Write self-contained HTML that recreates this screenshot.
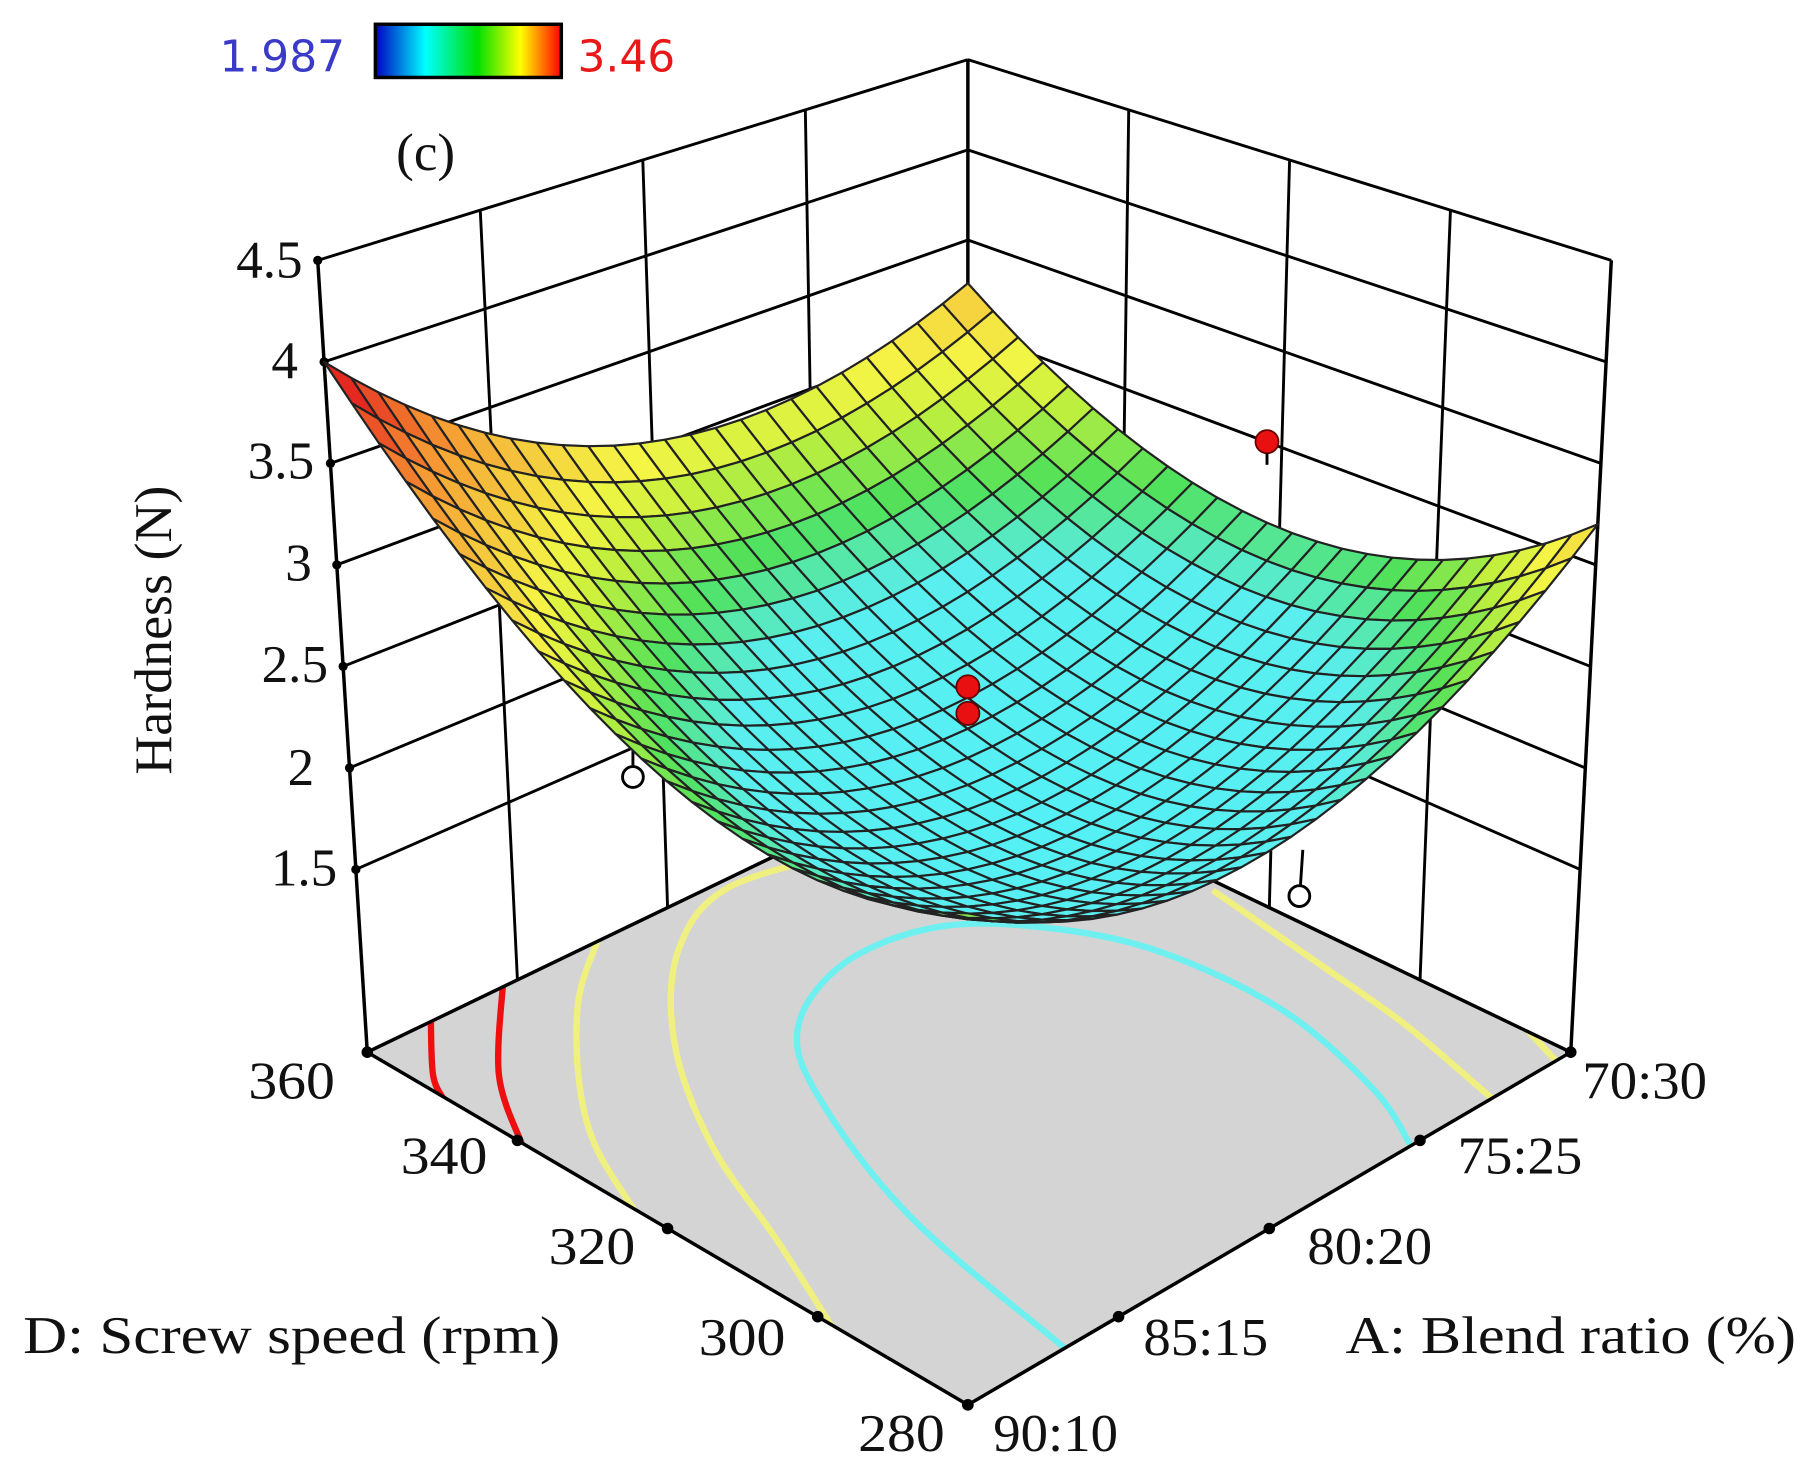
<!DOCTYPE html>
<html><head><meta charset="utf-8"><style>
html,body{margin:0;padding:0;background:#fff;}
svg{display:block;}
.t{font-family:"Liberation Serif",serif;font-size:46px;fill:#111;}
.s{font-family:"DejaVu Sans","Liberation Sans",sans-serif;font-size:38px;}
</style></head><body>
<svg id="g" width="1811" height="1480" viewBox="0 0 1568 1280" preserveAspectRatio="none" xmlns="http://www.w3.org/2000/svg">
<defs><linearGradient id="cb" x1="0" x2="1" y1="0" y2="0">
<stop offset="0" stop-color="#0000c0"/><stop offset="0.27" stop-color="#00ffff"/><stop offset="0.55" stop-color="#00e000"/><stop offset="0.78" stop-color="#ffff00"/><stop offset="1" stop-color="#ff0000"/></linearGradient>
<clipPath id="fc"><polygon points="838,1215 318,910 838,660 1360,910"/></clipPath></defs>
<g id="walls"></g>
<g id="floor"></g>
<g id="stems"></g>
<g id="surf"></g>
<g id="pts"></g>
<rect x="325" y="21" width="161" height="46" fill="url(#cb)" stroke="#000" stroke-width="3"/>
<text class="s" x="190" y="62" fill="#3a3ac8">1.987</text>
<text class="s" x="500" y="62" fill="#e81818">3.46</text>
<text class="t" x="343" y="147">(c)</text>
<text class="t" x="262" y="240" text-anchor="end">4.5</text>
<text class="t" x="258" y="327" text-anchor="end">4</text>
<text class="t" x="272" y="414" text-anchor="end">3.5</text>
<text class="t" x="270" y="502" text-anchor="end">3</text>
<text class="t" x="284" y="590" text-anchor="end">2.5</text>
<text class="t" x="272" y="679" text-anchor="end">2</text>
<text class="t" x="292" y="766" text-anchor="end">1.5</text>
<text class="t" transform="translate(148,545) rotate(-90)" text-anchor="middle" textLength="250" lengthAdjust="spacingAndGlyphs">Hardness (N)</text>
<text class="t" x="215" y="950" textLength="75" lengthAdjust="spacingAndGlyphs">360</text>
<text class="t" x="347" y="1015" textLength="75" lengthAdjust="spacingAndGlyphs">340</text>
<text class="t" x="475" y="1093" textLength="75" lengthAdjust="spacingAndGlyphs">320</text>
<text class="t" x="605" y="1172" textLength="75" lengthAdjust="spacingAndGlyphs">300</text>
<text class="t" x="743" y="1255" textLength="75" lengthAdjust="spacingAndGlyphs">280</text>
<text class="t" x="860" y="1255" textLength="108" lengthAdjust="spacingAndGlyphs">90:10</text>
<text class="t" x="990" y="1172" textLength="108" lengthAdjust="spacingAndGlyphs">85:15</text>
<text class="t" x="1132" y="1093" textLength="108" lengthAdjust="spacingAndGlyphs">80:20</text>
<text class="t" x="1262" y="1015" textLength="108" lengthAdjust="spacingAndGlyphs">75:25</text>
<text class="t" x="1370" y="950" textLength="108" lengthAdjust="spacingAndGlyphs">70:30</text>
<text class="t" x="20" y="1170" textLength="465" lengthAdjust="spacingAndGlyphs">D: Screw speed (rpm)</text>
<text class="t" x="1165" y="1170" textLength="390" lengthAdjust="spacingAndGlyphs">A: Blend ratio (%)</text>
</svg>
<script>
(function(){
var NS="http://www.w3.org/2000/svg";
function bl(c,a,d){return c[0]*(1-a)*(1-d)+c[1]*(1-a)*d+c[2]*a*(1-d)+c[3]*a*d;}
var FX=[838,318,1360,838],FY=[1215,910,910,660],UX=[0,-11,9,0],SC=[195,175.6,175.6,156];
var Z0=0.6;
function P(a,d,z){var h=z-Z0;return [bl(FX,a,d)+bl(UX,a,d)*h, bl(FY,a,d)-bl(SC,a,d)*h];}
function f(a,d){return 2.78-1.98*a-1.38*d-1.16*a*d+2.4*a*a+2.6*d*d;}
function el(gid,tag,at){var e=document.createElementNS(NS,tag);for(var k in at)e.setAttribute(k,at[k]);document.getElementById(gid).appendChild(e);return e;}
function line(gid,p,q,w,c){el(gid,"line",{x1:p[0],y1:p[1],x2:q[0],y2:q[1],stroke:c||"#000","stroke-width":w||2.5});}
var levels=[1.5,2,2.5,3,3.5,4,4.5];
levels.forEach(function(z){line("walls",P(0,1,z),P(1,1,z));line("walls",P(1,1,z),P(1,0,z));
 var p=P(0,1,z);el("walls","circle",{cx:p[0],cy:p[1],r:4,fill:"#000"});});
[0.25,0.5,0.75].forEach(function(s){line("walls",P(s,1,Z0),P(s,1,4.5));line("walls",P(1,s,Z0),P(1,s,4.5));});
line("walls",P(0,1,Z0),P(0,1,4.5),3);line("walls",P(1,1,Z0),P(1,1,4.5),3);line("walls",P(1,0,Z0),P(1,0,4.5),3);
el("floor","polygon",{points:"838,1215 318,910 838,660 1360,910",fill:"#d4d4d4"});
var cg=el("floor","g",{"clip-path":"url(#fc)"});
function cr(pts){var d="M"+pts[0][0]+" "+pts[0][1];
 for(var i=0;i<pts.length-1;i++){var p0=pts[i-1]||pts[i],p1=pts[i],p2=pts[i+1],p3=pts[i+2]||p2;
  d+="C"+(p1[0]+(p2[0]-p0[0])/6).toFixed(1)+" "+(p1[1]+(p2[1]-p0[1])/6).toFixed(1)+" "+(p2[0]-(p3[0]-p1[0])/6).toFixed(1)+" "+(p2[1]-(p3[1]-p1[1])/6).toFixed(1)+" "+p2[0]+" "+p2[1];}
 return d;}
var curves=[
 ["#6ff0f0",[[922,1166],[788,1052],[709,949],[691,888],[731,833],[810,802],[903,802],[1004,823],[1111,874],[1190,943],[1222,992]]],
 ["#f0f080",[[740,735],[630,768],[587,823],[584,902],[616,990],[673,1073],[722,1150]]],
 ["#f0f080",[[518,812],[501,864],[501,932],[515,990],[550,1048]]],
 ["#ee1010",[[436,845],[432,930],[452,990]]],
 ["#ee1010",[[373,878],[375,930],[385,952]]],
 ["#f0f080",[[1050,770],[1147,837],[1219,888],[1294,952]]],
 ["#f0f080",[[1318,886],[1345,915],[1352,920]]]
];
curves.forEach(function(c){var e=document.createElementNS(NS,"path");e.setAttribute("d",cr(c[1]));e.setAttribute("stroke",c[0]);e.setAttribute("stroke-width","5.5");e.setAttribute("fill","none");cg.appendChild(e);});
el("floor","polygon",{points:"838,1215 318,910 838,660 1360,910",fill:"none",stroke:"#000","stroke-width":3});
for(var k=0;k<=4;k++){var p=P(0,k/4,Z0);el("floor","circle",{cx:p[0],cy:p[1],r:5,fill:"#000"});p=P(k/4,0,Z0);el("floor","circle",{cx:p[0],cy:p[1],r:5,fill:"#000"});}
line("stems",[548,595],[548,662],2.5);line("stems",[1128,735],[1126,765],2.5);
function col(z){var st=[[2.0,[85,240,245]],[2.4,[90,238,238]],[2.62,[80,225,90]],[2.85,[200,240,60]],[3.0,[245,245,70]],[3.5,[245,150,50]],[3.9,[225,30,30]]];
 if(z<=st[0][0])return st[0][1];for(var i=1;i<st.length;i++){if(z<=st[i][0]){var t=(z-st[i-1][0])/(st[i][0]-st[i-1][0]);var a=st[i-1][1],b=st[i][1];return [0,1,2].map(function(k){return Math.round(a[k]+(b[k]-a[k])*t)});}}return st[st.length-1][1];}
var M=25,q=[];
for(var i=0;i<M;i++)for(var j=0;j<M;j++)q.push([i,j]);
q.sort(function(x,y){return (y[0]+y[1])-(x[0]+x[1]);});
q.forEach(function(ij){var i=ij[0],j=ij[1];var vs=[[i,j],[i+1,j],[i+1,j+1],[i,j+1]].map(function(v){var a=v[0]/M,d=v[1]/M;return P(a,d,f(a,d));});
 var z=f((i+.5)/M,(j+.5)/M);var cc=col(z);
 el("surf","polygon",{points:vs.map(function(p){return p[0].toFixed(1)+","+p[1].toFixed(1)}).join(" "),fill:"rgb("+cc.join(",")+")",stroke:"#222","stroke-width":1.9,"stroke-linejoin":"round"});});
[[548,672],[1125,775]].forEach(function(p){el("pts","circle",{cx:p[0],cy:p[1],r:9,fill:"#fff",stroke:"#000","stroke-width":2.5});});
[[1097,382],[838,594],[838,617]].forEach(function(p){el("pts","circle",{cx:p[0],cy:p[1],r:10,fill:"#e81010",stroke:"#600","stroke-width":1.5});});
line("pts",[1097,392],[1097,402],2.5);
})();
</script>
</body></html>
